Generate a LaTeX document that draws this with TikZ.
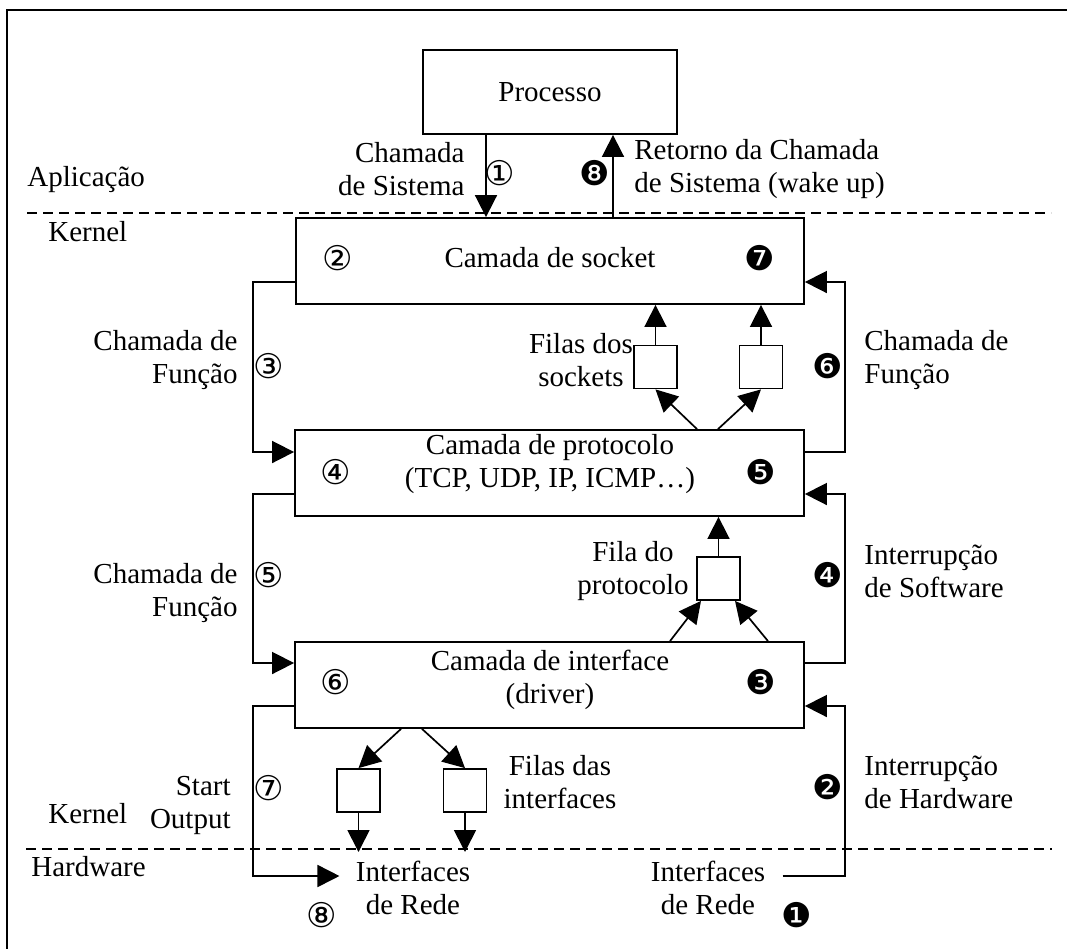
\documentclass[tikz,border=0pt]{standalone}
\usepackage{fontspec}
\setmainfont{Liberation Serif}
\newfontfamily\symfont{DejaVu Sans}
\usetikzlibrary{arrows.meta}
\begin{document}
\begin{tikzpicture}[x=0.5pt,y=-0.5pt,
  every node/.style={font=\fontsize{14.5}{16.5}\selectfont},
  box/.style={draw, line width=0.9pt, minimum height=43pt, inner sep=0pt},
  queue/.style={draw, line width=0.9pt, minimum width=21.5pt, minimum height=21.5pt, inner sep=0pt},
  lbl/.style={inner sep=0pt, align=center},
  lbll/.style={inner sep=0pt, align=left, anchor=west},
  lblr/.style={inner sep=0pt, align=right, anchor=east},
  num/.style={inner sep=0pt, font=\symfont\fontsize{17}{17}\selectfont},
  conn/.style={line width=0.85pt, -{Triangle[length=11pt,width=11pt]}},
  sep/.style={line width=0.9pt, dash pattern=on 5pt off 3pt},
  frame/.style={line width=1.4pt}]
\useasboundingbox (0,0) rectangle (1067,949);

% outer frame (top and left edges)
\draw[frame] (1067,10) -- (7,10) -- (7,949);

% layer separators
\draw[sep] (27,213) -- (1051,213);
\draw[sep] (26,849) -- (1052,849);
\node[lbll] (app) at (27,180) {Aplicação};
\node[lbll] (kern1) at (48,232) {Kernel};
\node[lbll] (kern2) at (48,814) {Kernel};
\node[lbll] (hw) at (31,867) {Hardware};

% layers
\node[box, minimum width=127pt, minimum height=42pt] (proc) at (550,92) {Processo};
\node[box, minimum width=254pt] (sock) at (550,261) {};
\node[lbl] (socktxt) at (550,258) {Camada de socket};
\node[box, minimum width=254.5pt] (prot) at (549.5,473) {};
\node[lbl] (prottxt) at (550,464) {Camada de protocolo\\(TCP, UDP, IP, ICMP…)};
\node[box, minimum width=254.5pt] (intf) at (549.5,685) {};
\node[lbl] (intftxt) at (550,680) {Camada de interface\\(driver)};

% queues
\node[queue] (sq1) at (655.5,367) {};
\node[queue] (sq2) at (761,367) {};
\node[queue] (pq) at (718.5,578.5) {};
\node[queue] (iq1) at (358.5,790.5) {};
\node[queue] (iq2) at (465,790.5) {};
\node[lbl] (sqtxt) at (581,360) {Filas dos\\sockets};
\node[lbl] (pqtxt) at (633,571) {Fila do\\protocolo};
\node[lbl] (iqtxt) at (560,782) {Filas das\\interfaces};

% network interfaces
\node[lbl] (ifl) at (413,888) {Interfaces\\de Rede};
\node[lbl] (ifr) at (708,888) {Interfaces\\de Rede};
\coordinate (iq1end) at (iq1.south |- 0,852);
\coordinate (iq2end) at (iq2.south |- 0,852);

% system call and return
\draw[conn] (proc.south -| 486,0) -- (sock.north -| 486,0);
\draw[conn] (sock.north -| 613,0) -- (proc.south -| 613,0);
\node[lblr, align=right] (calltxt) at (465,169) {Chamada\\de Sistema};
\node[lbll] (rettxt) at (634,169) {Retorno da Chamada\\de Sistema (wake up)};

% output path (left side)
\draw[conn] (sock.west |- 0,282) -- (253,282) |- (prot.west |- 0,452);
\draw[conn] (prot.west |- 0,494) -- (253,494) |- (intf.west |- 0,663);
\draw[conn, shorten >=8pt] (intf.west |- 0,706) -- (253,706) |- (ifl.west |- 0,876);
\node[lblr] (f3txt) at (238,360) {Chamada de\\Função};
\node[lblr] (f5txt) at (238,593) {Chamada de\\Função};
\node[lblr] (sotxt) at (231,805) {Start\\Output};

% input path (right side)
\draw[conn, shorten <=8.5pt] (ifr.east |- 0,876) -- (845,876) |- (intf.east |- 0,706);
\draw[conn] (intf.east |- 0,663) -- (845,663) |- (prot.east |- 0,494);
\draw[conn] (prot.east |- 0,452) -- (845,452) |- (sock.east |- 0,282);
\node[lbll] (f6txt) at (864,360) {Chamada de\\Função};
\node[lbll] (swtxt) at (864,571) {Interrupção\\de Software};
\node[lbll] (hwtxt) at (864,782) {Interrupção\\de Hardware};

% queue transfers
\draw[conn] (sq1.north) -- (sq1.north |- sock.south);
\draw[conn] (sq2.north) -- (sq2.north |- sock.south);
\draw[conn] (prot.north -| 697,0) -- (sq1.south);
\draw[conn] (prot.north -| 718,0) -- (sq2.south);
\draw[conn] (pq.north) -- (pq.north |- prot.south);
\draw[conn] (intf.north -| 670,0) -- ([xshift=-8.75pt]pq.south);
\draw[conn] (intf.north -| 768,0) -- ([xshift=8.25pt]pq.south);
\draw[conn] (intf.south -| 401,0) -- (iq1.north);
\draw[conn] (intf.south -| 422,0) -- (iq2.north);
\draw[conn] (iq1.south) -- (iq1end);
\draw[conn] (iq2.south) -- (iq2end);

% step numbers: output (white) and input (black)
\node[num] (o1) at (500,173) {①};
\node[num] (o2) at (338,258) {②};
\node[num] (o3) at (269,366) {③};
\node[num] (o4) at (336,472) {④};
\node[num] (o5) at (269,575) {⑤};
\node[num] (o6) at (336,682) {⑥};
\node[num] (o7) at (269,788) {⑦};
\node[num] (o8) at (322,915) {⑧};
\node[num] (i1) at (797,915) {❶};
\node[num] (i2) at (828,787) {❷};
\node[num] (i3) at (761,682) {❸};
\node[num] (i4) at (828,575) {❹};
\node[num] (i5) at (761,472) {❺};
\node[num] (i6) at (828,366) {❻};
\node[num] (i7) at (760,258) {❼};
\node[num] (i8) at (595,173) {❽};
\end{tikzpicture}
\end{document}
